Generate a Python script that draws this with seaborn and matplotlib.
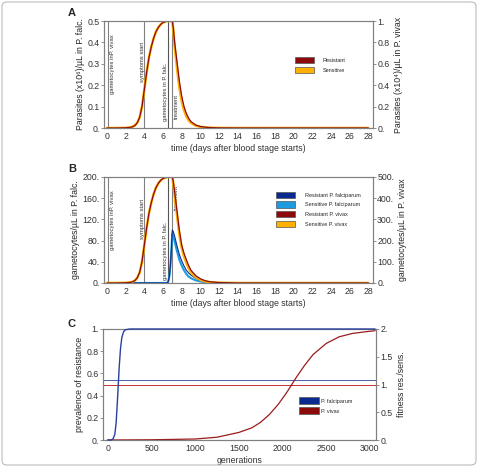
import numpy as np
import pandas as pd
import matplotlib
matplotlib.use("Agg")
import matplotlib.pyplot as plt
from matplotlib.patches import Patch, FancyBboxPatch
import seaborn as sns

# ---- panel A: parasites (left axis units, P. falc. x10^6/uL)
days = [0, 1, 2, 2.5, 2.75, 3, 3.25, 3.5, 3.75, 4, 4.25, 4.5, 4.75, 5, 5.25, 5.5, 5.75, 6, 6.25, 6.5,
        7, 7.1, 7.25, 7.5, 7.75, 8, 8.25, 8.5, 8.75, 9, 9.5, 10, 10.5, 11, 12, 14, 28]
par_res = [0, 0, 0.001, 0.003, 0.006, 0.012, 0.025, 0.05, 0.1, 0.18, 0.26, 0.33, 0.38, 0.42, 0.45, 0.47, 0.484, 0.493, 0.497, 0.5,
           0.5, 0.47, 0.40, 0.31, 0.22, 0.15, 0.10, 0.068, 0.045, 0.03, 0.014, 0.007, 0.004, 0.002, 0.0005, 0, 0]
par_sens = [0, 0, 0.001, 0.003, 0.006, 0.012, 0.025, 0.05, 0.1, 0.18, 0.26, 0.33, 0.38, 0.42, 0.45, 0.47, 0.484, 0.493, 0.497, 0.5,
            0.5, 0.46, 0.38, 0.28, 0.19, 0.125, 0.083, 0.055, 0.036, 0.024, 0.011, 0.005, 0.003, 0.0015, 0.0003, 0, 0]

# ---- panel B: gametocytes
viv_res = [0, 0, 1, 3, 6, 12, 25, 50, 100, 180, 260, 330, 380, 420, 450, 470, 484, 493, 497, 500,
           500, 480, 430, 340, 250, 180, 140, 110, 82, 60, 35, 20, 11, 6, 2, 0, 0]
viv_sens = [0, 0, 1, 3, 6, 12, 25, 50, 100, 180, 260, 330, 380, 420, 450, 470, 484, 493, 497, 500,
            500, 470, 410, 320, 230, 165, 125, 95, 70, 50, 28, 15, 8, 4, 1, 0, 0]
t_falc = [0, 6.45, 6.5, 6.6, 6.7, 6.8, 6.9, 6.95, 7, 7.1, 7.25, 7.5, 7.75, 8, 8.25, 8.5, 8.75, 9, 9.5, 10, 10.5, 11, 12, 14, 28]
falc_res = [0, 0, 1, 5, 15, 35, 65, 85, 100, 97, 88, 70, 54, 42, 32, 24, 19, 15, 9, 5, 3, 1.5, 0.5, 0, 0]
falc_sens = [0, 0, 1, 5, 15, 34, 62, 80, 93, 88, 78, 60, 44, 33, 24, 17, 12, 9, 5, 3, 1.5, 0.8, 0.2, 0, 0]

# ---- panel C: prevalence of resistance
gen_falc = [0, 40, 60, 80, 95, 110, 120, 130, 145, 160, 180, 200, 250, 3060]
prev_falc = [0, 0, 0.01, 0.05, 0.15, 0.35, 0.5, 0.65, 0.82, 0.92, 0.975, 0.993, 1, 1]
gen_viv = [0, 500, 1000, 1250, 1500, 1650, 1750, 1850, 1950, 2050, 2150, 2250, 2350, 2500, 2650, 2800, 2950, 3060]
prev_viv = [0, 0.002, 0.009, 0.025, 0.068, 0.11, 0.16, 0.23, 0.32, 0.43, 0.555, 0.67, 0.77, 0.87, 0.93, 0.96, 0.975, 0.985]
fitness_falc = 1.08
fitness_viv = 1.0

events = [0.1, 4, 6.5, 7]
event_labels = ["gametocytes inP. vivax", "symptoms start", "gametocytes in P. falc.", "treatment"]

C_RES = "#8c0a0a"
C_SENS = "#ffb000"
C_FRES = "#0b2a90"
C_FSENS = "#1e9be0"
C_BLUE = "#2a3fa0"
C_RED = "#9b1b1b"
GRAY = "#808080"

sns.set_style("white")
plt.rcParams["font.family"] = ["Liberation Sans", "DejaVu Sans"]
plt.rcParams["font.size"] = 6

W, H = 478, 467
fig = plt.figure(figsize=(W / 100, H / 100), dpi=100)


def axes_px(l, t, r, b):
    return fig.add_axes([l / W, 1 - b / H, (r - l) / W, (b - t) / H])


def style(ax):
    for s in ax.spines.values():
        s.set_visible(True)
        s.set_color(GRAY)
        s.set_linewidth(0.8)
    ax.tick_params(length=2, width=0.6, color=GRAY, labelsize=6.3, pad=1, labelcolor="#333333")


def day_axes(top, bottom):
    ax = axes_px(104, top, 373, bottom)
    ax.set_xlim(-0.32, 28.5)
    ax.set_xticks(range(0, 29, 2))
    ax.set_xticklabels([str(d) for d in range(0, 29, 2)])
    ax.set_xlabel("time (days after blood stage starts)", fontsize=6.3, labelpad=2, color="#333333")
    for x in events:
        ax.axvline(x, color="#555555" if x == 6.5 else GRAY, lw=0.8, zorder=1)
    return ax


def event_text(ax, ys):
    xs = [0.55, 3.82, 6.22, 7.45]
    for x, y, s in zip(xs, ys, event_labels):
        ax.text(x, y, s, rotation=90, ha="center", va="center", fontsize=4.2, color="#333333")


# ---- A
axA = day_axes(21, 128)
sns.lineplot(x=days, y=par_sens, ax=axA, color=C_SENS, lw=1.8)
sns.lineplot(x=days, y=par_res, ax=axA, color=C_RES, lw=0.9)
axA.set_ylim(0, 0.5)
axA.set_yticks(np.arange(0, 0.51, 0.1))
axA.set_yticklabels(["0.", "0.1", "0.2", "0.3", "0.4", "0.5"])
axA.set_ylabel("Parasites (x10⁶)/µL in P. falc.", fontsize=6.3, labelpad=2)
event_text(axA, [0.30, 0.31, 0.17, 0.10])
axA2 = axA.twinx()
axA2.set_ylim(0, 1)
axA2.set_yticks(np.arange(0, 1.01, 0.2))
axA2.set_yticklabels(["0.", "0.2", "0.4", "0.6", "0.8", "1."])
axA2.set_ylabel("Parasites (x10⁴)/µL in P. vivax", fontsize=6.3, labelpad=3)
style(axA)
style(axA2)
axA.legend(handles=[Patch(facecolor=C_RES, edgecolor="#555555", lw=0.5, label="Resistant"),
                    Patch(facecolor=C_SENS, edgecolor="#555555", lw=0.5, label="Sensitive")],
           loc="upper left", bbox_to_anchor=(0.69, 0.71), frameon=False, fontsize=4,
           handlelength=3.5, handleheight=1.4, handletextpad=1.5, labelspacing=0.6)

# ---- B
axB = day_axes(177, 283)
sns.lineplot(x=t_falc, y=falc_sens, ax=axB, color=C_FSENS, lw=1.5)
sns.lineplot(x=t_falc, y=falc_res, ax=axB, color=C_FRES, lw=0.8)
axB.set_ylim(0, 200)
axB.set_yticks(range(0, 201, 40))
axB.set_yticklabels([f"{v}." for v in range(0, 201, 40)])
axB.set_ylabel("gametocytes/µL in P. falc.", fontsize=6.3, labelpad=2)
event_text(axB, [118, 121, 60, 161])
axB2 = axB.twinx()
sns.lineplot(x=days, y=viv_sens, ax=axB2, color=C_SENS, lw=1.8)
sns.lineplot(x=days, y=viv_res, ax=axB2, color=C_RES, lw=0.9)
axB2.set_ylim(0, 500)
axB2.set_yticks(range(0, 501, 100))
axB2.set_yticklabels([f"{v}." for v in range(0, 501, 100)])
axB2.set_ylabel("gametocytes/µL in P. vivax", fontsize=6.3, labelpad=3)
style(axB)
style(axB2)
axB2.legend(handles=[Patch(facecolor=C_FRES, edgecolor="#555555", lw=0.5, label="Resistant P. falciparum"),
                     Patch(facecolor=C_FSENS, edgecolor="#555555", lw=0.5, label="Sensitive P. falciparum"),
                     Patch(facecolor=C_RES, edgecolor="#555555", lw=0.5, label="Resistant P. vivax"),
                     Patch(facecolor=C_SENS, edgecolor="#555555", lw=0.5, label="Sensitive P. vivax")],
            loc="upper left", bbox_to_anchor=(0.62, 0.91), frameon=False, fontsize=4,
            handlelength=3.5, handleheight=1.4, handletextpad=1.8, labelspacing=0.6)

# ---- C
axC = axes_px(103, 329, 376, 440)
axC2 = axC.twinx()
axC2.axhline(fitness_falc, color="#4a62a8", lw=0.7)
axC2.axhline(fitness_viv, color="#c03030", lw=0.7)
sns.lineplot(x=gen_viv, y=prev_viv, ax=axC, color=C_RED, lw=0.9)
sns.lineplot(x=gen_falc, y=prev_falc, ax=axC, color=C_BLUE, lw=1.0, clip_on=False, zorder=5)
axC.set_zorder(axC2.get_zorder() + 1)
axC.patch.set_visible(False)
axC.set_xlim(-55, 3070)
axC.set_ylim(0, 1)
axC.set_xticks(range(0, 3001, 500))
axC.set_xticklabels([str(v) for v in range(0, 3001, 500)])
axC.set_yticks(np.arange(0, 1.01, 0.2))
axC.set_yticklabels(["0.", "0.2", "0.4", "0.6", "0.8", "1."])
axC.set_xlabel("generations", fontsize=6.3, labelpad=2, color="#333333")
axC.set_ylabel("prevalence of resistance", fontsize=6.3, labelpad=2)
axC2.set_ylim(0, 2)
axC2.set_yticks([0, 0.5, 1, 1.5, 2])
axC2.set_yticklabels(["0.", "0.5", "1.", "1.5", "2."])
axC2.set_ylabel("fitness res./sens.", fontsize=6.3, labelpad=3)
style(axC)
style(axC2)
axC.legend(handles=[Patch(facecolor=C_FRES, edgecolor="#555555", lw=0.5, label="P. falciparum"),
                    Patch(facecolor=C_RES, edgecolor="#555555", lw=0.5, label="P. vivax")],
           loc="upper left", bbox_to_anchor=(0.70, 0.43), frameon=False, fontsize=4,
           handlelength=3.5, handleheight=1.6, handletextpad=0.4, labelspacing=0.5)

# panel letters
for lab, y in [("A", 13), ("B", 169), ("C", 324)]:
    fig.text(68 / W, 1 - y / H, lab, fontsize=8, fontweight="bold", va="center", ha="left")

# thin frame round the figure
fig.patches.append(FancyBboxPatch((2 / W, 2 / H), 1 - 4 / W, 1 - 4 / H,
                                  boxstyle="round,pad=0,rounding_size=0.01",
                                  transform=fig.transFigure, fill=False,
                                  edgecolor="#bbbbbb", lw=0.8))

fig.savefig("out.png", dpi=100)
